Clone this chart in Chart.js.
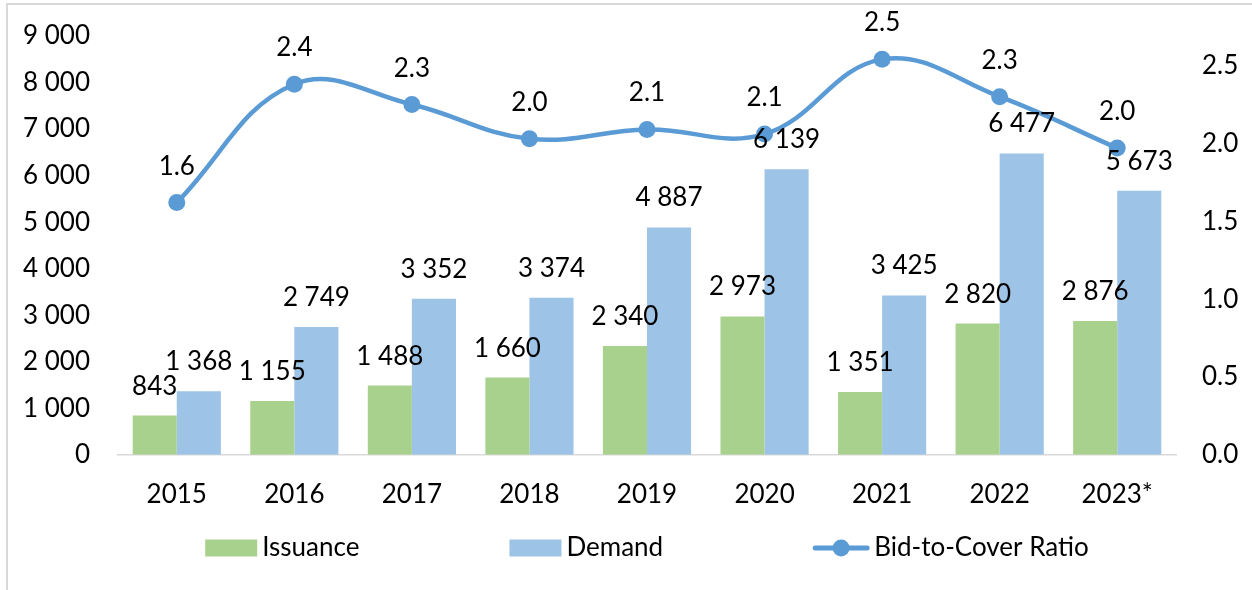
<!DOCTYPE html>
<html><head><meta charset="utf-8">
<script src="https://cdn.jsdelivr.net/npm/chart.js@4/dist/chart.umd.min.js"></script>
<style>
html,body{margin:0;padding:0;background:#fff;overflow:hidden;}
#frame{position:absolute;left:6px;top:3px;width:3000px;height:3000px;border-left:2px solid #d9d9d9;border-top:2px solid #d9d9d9;}
#wrap{position:absolute;left:0;top:0;width:1252px;height:590px;}
</style></head>
<body>
<div id="frame"></div>
<div id="wrap"><canvas id="c" width="1252" height="590"></canvas></div>
<script>
const categories = ['2015','2016','2017','2018','2019','2020','2021','2022','2023*'];
const issuance = [843, 1155, 1488, 1660, 2340, 2973, 1351, 2820, 2876];
const demand = [1368, 2749, 3352, 3374, 4887, 6139, 3425, 6477, 5673];
const bidToCover = [1.62, 2.38, 2.25, 2.03, 2.09, 2.06, 2.54, 2.30, 1.97];
const leftTicks = [0,1000,2000,3000,4000,5000,6000,7000,8000,9000];
const rightTicks = [0,0.5,1.0,1.5,2.0,2.5];

const FONT = 'Lato, "Noto Sans", sans-serif';
const FS = 26;
const fmt = n => String(n).replace(/\B(?=(\d{3})+(?!\d))/g, ' ');

const labelsPlugin = {
  id: 'dlabels',
  afterDatasetsDraw(chart) {
    const ctx = chart.ctx;
    ctx.save();
    ctx.font = FS + 'px ' + FONT;
    ctx.fillStyle = '#000';
    ctx.textAlign = 'center';
    ctx.textBaseline = 'alphabetic';
    chart.data.datasets.forEach((ds, i) => {
      const meta = chart.getDatasetMeta(i);
      meta.data.forEach((el, j) => {
        if (ds.type === 'line') {
          ctx.fillText(ds.data[j].toFixed(1), el.x, el.y - 28);
        } else {
          ctx.fillText(fmt(ds.data[j]), el.x, el.y - 21);
        }
      });
    });
    ctx.restore();
  }
};

const legendPlugin = {
  id: 'customLegend',
  afterDraw(chart) {
    const ctx = chart.ctx;
    ctx.save();
    ctx.font = FS + 'px ' + FONT;
    ctx.textBaseline = 'middle';
    ctx.textAlign = 'left';
    const y = 548;
    const items = chart.data.datasets.map(ds => ({ds, text: ds.label, sym: ds.type === 'line' ? 56 : 52}));
    const gap = 150, tgap = 5;
    items.forEach(it => it.w = it.sym + tgap + ctx.measureText(it.text).width);
    const total = items.reduce((a, it) => a + it.w, 0) + gap * (items.length - 1);
    let x = (chart.chartArea.left + chart.chartArea.right) / 2 - total / 2;
    items.forEach(it => {
      if (it.ds.type === 'line') {
        ctx.strokeStyle = it.ds.borderColor;
        ctx.lineWidth = 5;
        ctx.lineCap = 'round';
        ctx.beginPath(); ctx.moveTo(x + 2, y); ctx.lineTo(x + it.sym - 2, y); ctx.stroke();
        ctx.fillStyle = it.ds.borderColor;
        ctx.beginPath(); ctx.arc(x + it.sym / 2, y, 8.5, 0, Math.PI * 2); ctx.fill();
      } else {
        ctx.fillStyle = it.ds.backgroundColor;
        ctx.fillRect(x, y - 8.5, it.sym, 17);
      }
      ctx.fillStyle = '#000';
      ctx.fillText(it.text, x + it.sym + tgap, y);
      x += it.w + gap;
    });
    ctx.restore();
  }
};

new Chart(document.getElementById('c'), {
  data: {
    labels: categories,
    datasets: [
      { type: 'bar', label: 'Issuance', data: issuance, yAxisID: 'y', order: 1,
        backgroundColor: '#a9d18e', categoryPercentage: 0.75, barPercentage: 1 },
      { type: 'bar', label: 'Demand', data: demand, yAxisID: 'y', order: 1,
        backgroundColor: '#9dc3e6', categoryPercentage: 0.75, barPercentage: 1 },
      { type: 'line', label: 'Bid-to-Cover Ratio', data: bidToCover, yAxisID: 'y1', order: 0,
        borderColor: '#5b9bd5', backgroundColor: '#5b9bd5', borderWidth: 4.5, tension: 0.4,
        pointRadius: 8.5, pointBackgroundColor: '#5b9bd5', pointBorderWidth: 0 }
    ]
  },
  options: {
    responsive: false,
    animation: false,
    layout: { padding: { top: 36, bottom: 56, left: 0, right: 0 } },
    plugins: { legend: { display: false }, tooltip: { enabled: false } },
    scales: {
      x: {
        grid: { display: false, drawTicks: false },
        border: { display: true, color: '#d9d9d9', width: 1.5 },
        ticks: { color: '#000', font: { family: FONT, size: FS }, padding: 24 }
      },
      y: {
        position: 'left', min: 0, max: 9000,
        afterFit(s) { s.width = 118; s.paddingTop = 0; s.paddingBottom = 0; },
        afterBuildTicks(s) { s.ticks = leftTicks.map(v => ({value: v})); },
        grid: { display: false, drawTicks: false },
        border: { display: false },
        ticks: { color: '#000', font: { family: FONT, size: FS }, padding: 28, callback: v => fmt(v) }
      },
      y1: {
        position: 'right', min: 0, max: 2.69,
        afterFit(s) { s.width = 1252 - 1176; s.paddingTop = 0; s.paddingBottom = 0; },
        afterBuildTicks(s) { s.ticks = rightTicks.map(v => ({value: v})); },
        grid: { display: false, drawTicks: false },
        border: { display: false },
        ticks: { color: '#000', font: { family: FONT, size: FS }, padding: 26, callback: v => Number(v).toFixed(1) }
      }
    }
  },
  plugins: [labelsPlugin, legendPlugin]
});
</script>
</body></html>
